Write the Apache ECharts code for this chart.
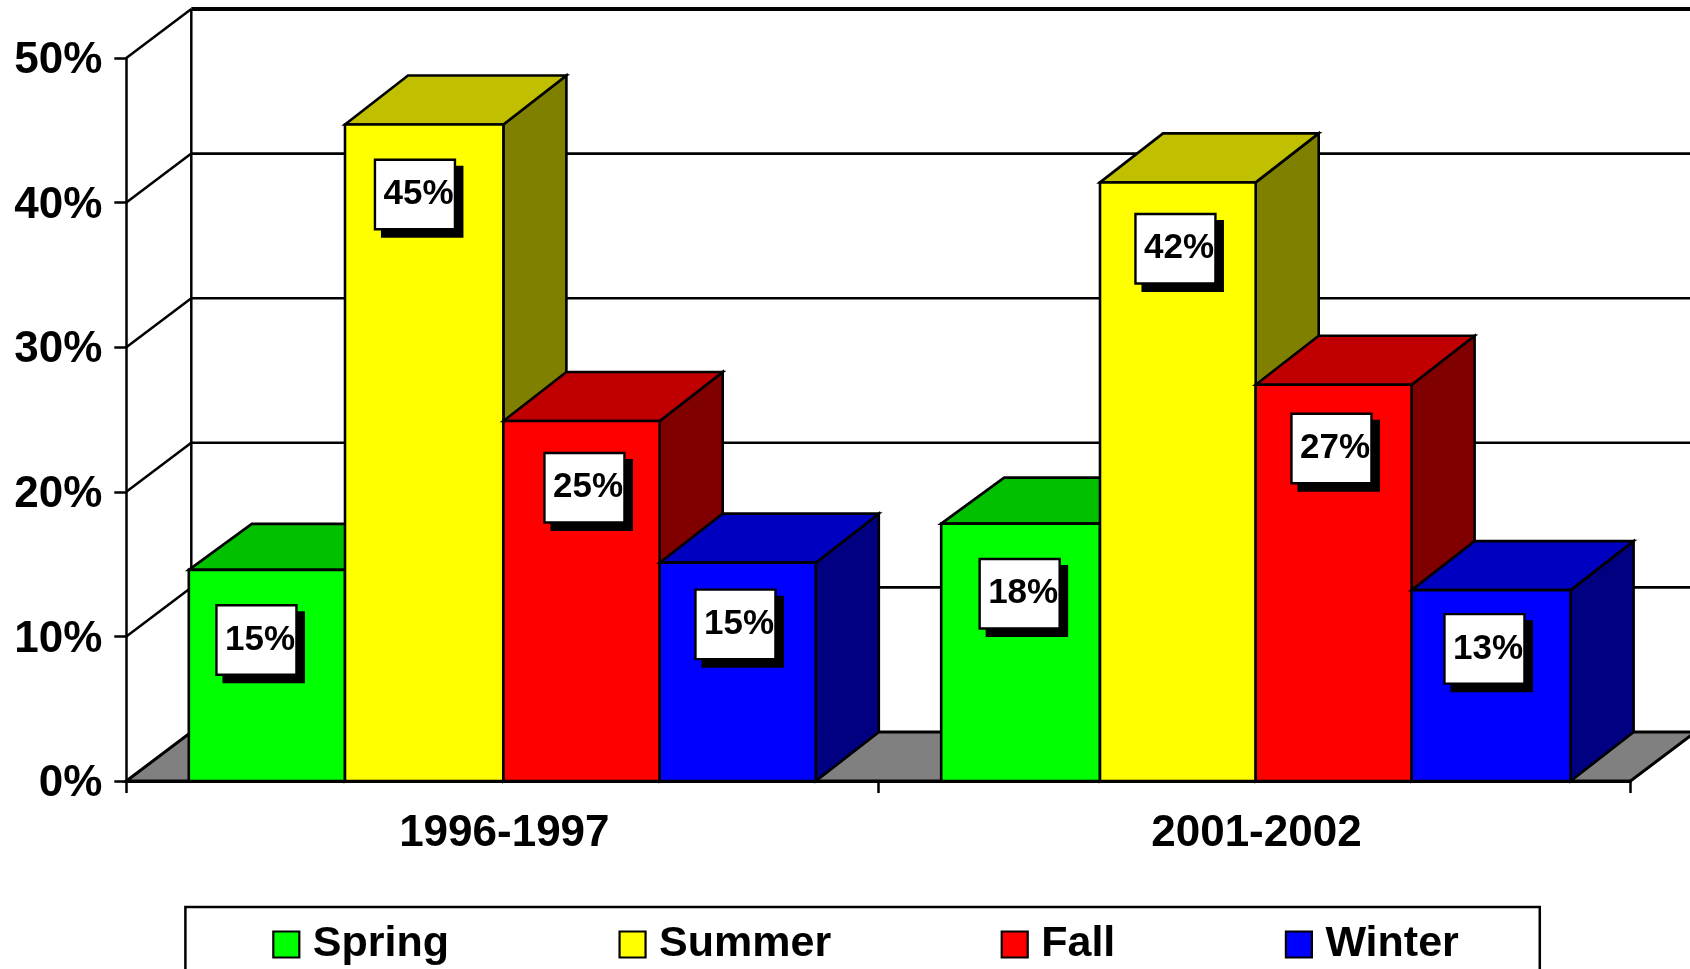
<!DOCTYPE html>
<html>
<head>
<meta charset="utf-8">
<style>html,body{margin:0;padding:0;background:#fff;overflow:hidden}#c{width:1690px;height:969px}</style>
<script src="https://cdn.jsdelivr.net/npm/echarts@6/dist/echarts.min.js"></script>
</head>
<body>
<div id="c"></div>
<script>
const categories = ['1996-1997', '2001-2002'];
const seasons = ['Spring', 'Summer', 'Fall', 'Winter'];
const yTicks = [0, 10, 20, 30, 40, 50];
const spring = [14.6, 17.8];
const summer = [45.4, 41.4];
const fall = [24.9, 27.4];
const winter = [15.1, 13.2];
const springLabels = ['15%', '18%'];
const summerLabels = ['45%', '42%'];
const fallLabels = ['25%', '27%'];
const winterLabels = ['15%', '13%'];

const values = [spring, summer, fall, winter];
const labels = [springLabels, summerLabels, fallLabels, winterLabels];
const frontColors = ['#00FF00', '#FFFF00', '#FF0000', '#0000FF'];
const topColors = ['#00C000', '#C0C000', '#C00000', '#0000C0'];
const sideColors = ['#008000', '#808000', '#800000', '#000080'];
// placement of the value boxes relative to each bar's nominal centre and top, per season and group
const labelPlacement = [
  [[-10.9, 35.3], [0.2, 35.4]],
  [[-9.4, 35.3], [-1, 31.6]],
  [[3.1, 32], [-2, 29]],
  [[-2.9, 27], [-6, 24]]
];
// bar edges within a category band, as measured on a 752.1-wide band
const barEdges = [
  [62.5, 218.7, 377.1, 533.4, 689.5],
  [62.8, 221.6, 377.3, 533.2, 692.2]
];
const FONT = '"Liberation Sans", Arial, sans-serif';
const WALL_DX = 65, WALL_DY = 49, BAR_DX = 63;
const BAR_DY = [46, 49, 49, 49];
const BAR_FRACTION = 157 / 752.1;
const BOX_W = 80, BOX_H = 69.5;
const EDGE_W = 2.6;

function wallsRender(params, api) {
  const cs = params.coordSys;
  const x0 = cs.x, x1 = cs.x + cs.width;
  const line = (a, b, c, d, w) => ({
    type: 'line', shape: { x1: a, y1: b, x2: c, y2: d },
    style: { stroke: '#000', lineWidth: w }
  });
  const v = api.value(0);
  const y = api.coord([0, v])[1];
  const children = [];
  if (v === 0) {
    children.push({
      type: 'polygon',
      shape: { points: [[x0, y], [x1, y], [x1 + WALL_DX, y - WALL_DY], [x0 + WALL_DX, y - WALL_DY]] },
      style: { fill: '#808080', stroke: '#000', lineWidth: 3 }
    });
    const yTop = api.coord([0, yTicks[yTicks.length - 1]])[1] - WALL_DY;
    children.push(line(x0 + WALL_DX, y - WALL_DY, x0 + WALL_DX, yTop, 2.5));
  } else {
    children.push(line(x0, y, x0 + WALL_DX, y - WALL_DY, 2.5));
    children.push(line(x0 + WALL_DX, y - WALL_DY, x1 + WALL_DX, y - WALL_DY, v === 50 ? 4 : 2.6));
  }
  return { type: 'group', children };
}

function barRender(s) {
  return function (params, api) {
    const g = api.value(0);
    const val = api.value(1);
    const top = api.coord([g, val]);
    const base = api.coord([g, 0]);
    const band = api.size([1, 0])[0];
    const bandStart = top[0] - band / 2;
    const scale = band / 752.1;
    const xl = bandStart + barEdges[g][s] * scale;
    const xr = bandStart + barEdges[g][s + 1] * scale;
    const yt = top[1], yb = base[1];
    const dy = BAR_DY[s];
    const edge = { stroke: '#000', lineWidth: EDGE_W, lineJoin: 'miter' };
    const w = band * BAR_FRACTION;
    const nominalCentre = top[0] + (s - 2) * w + 0.5 + w / 2;
    const place = labelPlacement[s][g];
    const bx = nominalCentre + place[0] - BOX_W / 2;
    const by = yt + place[1];
    return {
      type: 'group',
      children: [
        { type: 'polygon', shape: { points: [[xr, yt], [xr + BAR_DX, yt - dy], [xr + BAR_DX, yb - 49], [xr, yb]] },
          style: Object.assign({ fill: sideColors[s] }, edge) },
        { type: 'polygon', shape: { points: [[xl, yt], [xl + BAR_DX, yt - dy], [xr + BAR_DX, yt - dy], [xr, yt]] },
          style: Object.assign({ fill: topColors[s] }, edge) },
        { type: 'rect', shape: { x: xl, y: yt, width: xr - xl, height: yb - yt },
          style: Object.assign({ fill: frontColors[s] }, edge) },
        { type: 'rect', shape: { x: bx + 6, y: by + 6, width: BOX_W + 2.5, height: BOX_H + 2.5 },
          style: { fill: '#000', stroke: null } },
        { type: 'rect', shape: { x: bx, y: by, width: BOX_W, height: BOX_H },
          style: { fill: '#fff', stroke: '#000', lineWidth: 2.4 } },
        { type: 'text',
          style: { x: bx + 8.5, y: by + BOX_H / 2, text: labels[s][g], fill: '#000',
            font: 'bold 35px ' + FONT, textAlign: 'left', textVerticalAlign: 'middle' } }
      ]
    };
  };
}

const chart = echarts.init(document.getElementById('c'));
chart.setOption({
  animation: false,
  backgroundColor: '#fff',
  grid: { left: 126.3, right: 59.5, top: 58, bottom: 188, containLabel: false },
  xAxis: {
    type: 'category', data: categories, z: 5,
    axisLine: { lineStyle: { color: '#000', width: 3 } },
    axisTick: { show: true, length: 12, lineStyle: { color: '#000', width: 2.5 } },
    axisLabel: { color: '#000', fontFamily: FONT, fontWeight: 'bold', fontSize: 44, margin: 31, interval: 0, padding: [0, 0, 0, 4] }
  },
  yAxis: {
    type: 'value', min: 0, max: 50, interval: 10,
    splitLine: { show: false },
    axisLine: { show: true, lineStyle: { color: '#000', width: 2.5 } },
    axisTick: { show: true, length: 12, lineStyle: { color: '#000', width: 2.5 } },
    axisLabel: { color: '#000', fontFamily: FONT, fontWeight: 'bold', fontSize: 44, margin: 24, formatter: '{value}%', verticalAlign: 'top', lineHeight: 6 }
  },
  legend: {
    data: seasons, left: 185.4, top: 907, orient: 'horizontal', icon: 'rect',
    selectedMode: false, itemWidth: 26, itemHeight: 26, itemGap: 169.5,
    padding: [16, 81, 40, 86.8],
    borderColor: '#000', borderWidth: 2.5, backgroundColor: '#fff',
    itemStyle: { borderColor: '#000', borderWidth: 2.2 },
    textStyle: { color: '#000', fontFamily: FONT, fontWeight: 'bold', fontSize: 43, padding: [0, 0, 0, 8.5] }
  },
  series: [
    { name: 'Walls', type: 'custom', silent: true, z: 1, clip: false,
      coordinateSystem: 'cartesian2d', renderItem: wallsRender,
      data: yTicks.map(t => [t]), encode: { y: 0 } }
  ].concat(seasons.map((name, s) => ({
    name, type: 'custom', silent: true, z: 2 + s, clip: false,
    coordinateSystem: 'cartesian2d',
    itemStyle: { color: frontColors[s] },
    renderItem: barRender(s),
    data: values[s].map((v, g) => [g, v]),
    encode: { x: 0, y: 1 }
  })))
});
</script>
</body>
</html>
